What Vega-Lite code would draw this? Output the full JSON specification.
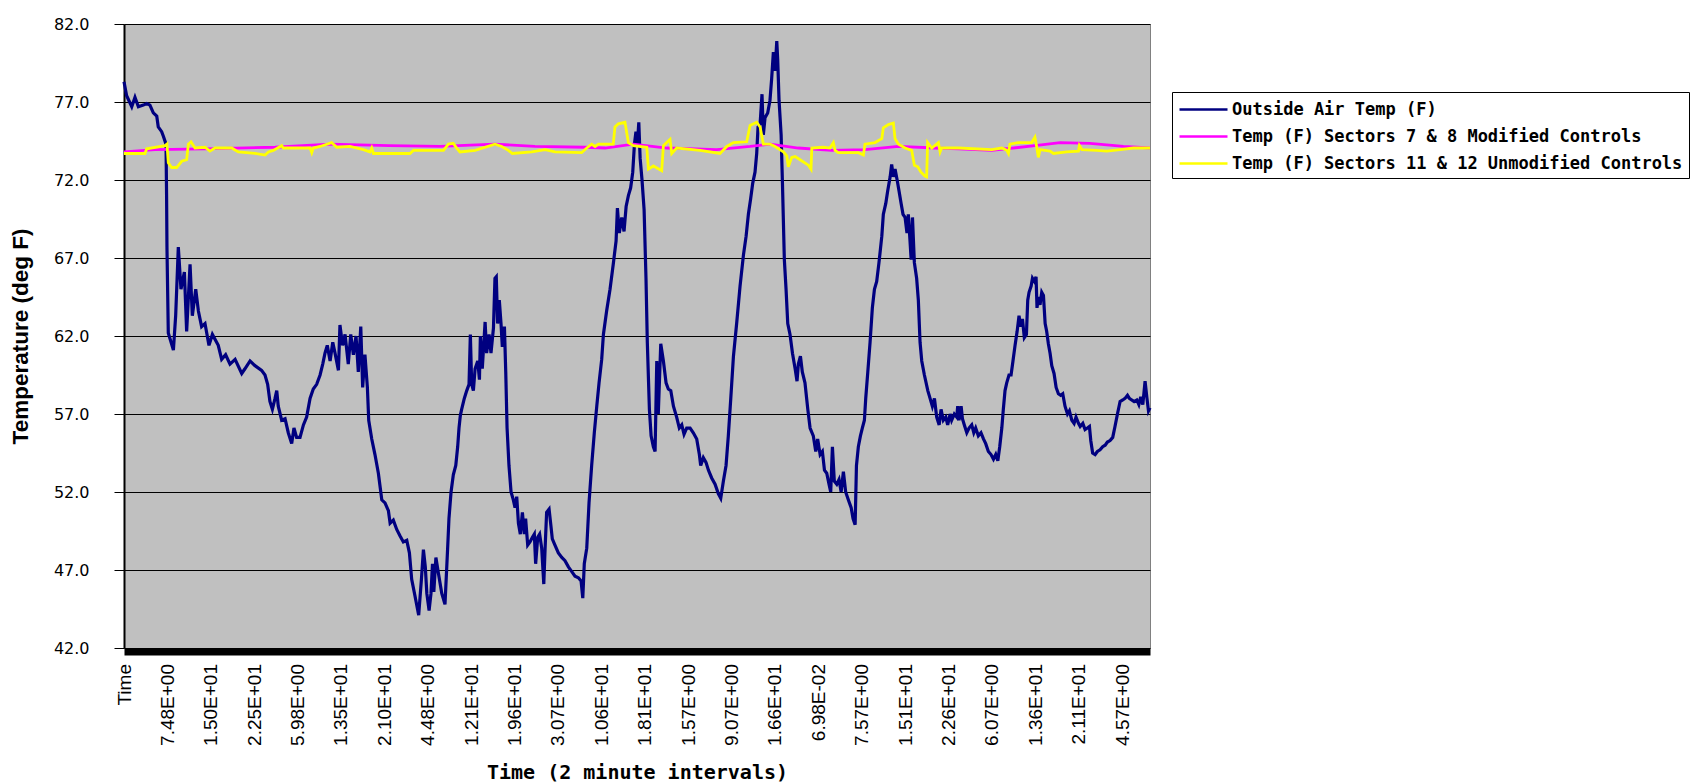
{
  "$schema": "https://vega.github.io/schema/vega-lite/v6.json",
  "width": 1026,
  "height": 624,
  "autosize": {"type": "none"},
  "padding": {"left": 124, "top": 24, "right": 555, "bottom": 135},
  "background": "white",
  "config": {"view": {"fill": "#C0C0C0", "stroke": "#808080", "strokeWidth": 1}},
  "datasets": {
    "outside": [
      {"x":0,"t":78.3},{"x":14,"t":77.4},{"x":41,"t":76.7},{"x":58,"t":77.3},{"x":76,"t":76.7},{"x":102,"t":76.8},{"x":120,"t":76.9},{"x":137,"t":76.8},{"x":155,"t":76.3},{"x":173,"t":76.1},{"x":181,"t":75.4},{"x":199,"t":75.1},{"x":208,"t":74.8},{"x":222,"t":74.3},{"x":225,"t":71.0},{"x":227,"t":67.7},{"x":234,"t":62.2},{"x":261,"t":61.1},{"x":273,"t":63.3},{"x":287,"t":67.7},{"x":301,"t":65.0},{"x":319,"t":66.1},{"x":331,"t":62.3},{"x":349,"t":66.6},{"x":361,"t":63.3},{"x":379,"t":65.0},{"x":393,"t":63.6},{"x":410,"t":62.6},{"x":428,"t":62.8},{"x":449,"t":61.4},{"x":467,"t":62.1},{"x":498,"t":61.4},{"x":516,"t":60.5},{"x":537,"t":60.8},{"x":560,"t":60.2},{"x":587,"t":60.5},{"x":622,"t":59.6},{"x":639,"t":59.9},{"x":666,"t":60.4},{"x":692,"t":60.1},{"x":727,"t":59.8},{"x":745,"t":59.5},{"x":759,"t":58.9},{"x":771,"t":57.8},{"x":784,"t":57.3},{"x":798,"t":58.0},{"x":807,"t":58.5},{"x":815,"t":57.5},{"x":833,"t":56.6},{"x":851,"t":56.7},{"x":868,"t":55.8},{"x":886,"t":55.1},{"x":898,"t":56.1},{"x":912,"t":55.5},{"x":930,"t":55.5},{"x":948,"t":56.3},{"x":965,"t":56.8},{"x":983,"t":58.0},{"x":1000,"t":58.6},{"x":1018,"t":58.9},{"x":1036,"t":59.5},{"x":1050,"t":60.2},{"x":1062,"t":60.9},{"x":1074,"t":61.4},{"x":1089,"t":60.4},{"x":1103,"t":61.6},{"x":1115,"t":60.9},{"x":1133,"t":59.8},{"x":1141,"t":62.7},{"x":1155,"t":61.4},{"x":1168,"t":62.1},{"x":1185,"t":60.2},{"x":1198,"t":62.1},{"x":1212,"t":60.8},{"x":1226,"t":62.0},{"x":1238,"t":59.7},{"x":1251,"t":62.6},{"x":1261,"t":58.7},{"x":1273,"t":60.8},{"x":1286,"t":58.7},{"x":1293,"t":56.6},{"x":1309,"t":55.4},{"x":1326,"t":54.4},{"x":1344,"t":53.2},{"x":1362,"t":51.5},{"x":1379,"t":51.3},{"x":1397,"t":50.8},{"x":1406,"t":50.0},{"x":1423,"t":50.2},{"x":1441,"t":49.6},{"x":1458,"t":49.2},{"x":1476,"t":48.8},{"x":1494,"t":48.9},{"x":1508,"t":48.1},{"x":1520,"t":46.4},{"x":1538,"t":45.3},{"x":1557,"t":44.1},{"x":1572,"t":46.5},{"x":1582,"t":48.3},{"x":1592,"t":47.2},{"x":1600,"t":45.5},{"x":1612,"t":44.4},{"x":1622,"t":45.5},{"x":1630,"t":47.4},{"x":1637,"t":45.6},{"x":1648,"t":47.8},{"x":1661,"t":46.8},{"x":1679,"t":45.5},{"x":1696,"t":44.8},{"x":1710,"t":48.4},{"x":1717,"t":50.3},{"x":1728,"t":52.0},{"x":1740,"t":53.1},{"x":1753,"t":53.7},{"x":1763,"t":54.9},{"x":1770,"t":56.1},{"x":1777,"t":56.9},{"x":1784,"t":57.3},{"x":1798,"t":58.0},{"x":1811,"t":58.5},{"x":1823,"t":58.9},{"x":1830,"t":62.1},{"x":1837,"t":58.9},{"x":1846,"t":58.5},{"x":1855,"t":59.9},{"x":1869,"t":60.4},{"x":1878,"t":59.2},{"x":1883,"t":62.0},{"x":1893,"t":59.9},{"x":1908,"t":62.9},{"x":1916,"t":60.9},{"x":1929,"t":62.1},{"x":1939,"t":60.9},{"x":1952,"t":62.5},{"x":1960,"t":65.7},{"x":1967,"t":65.8},{"x":1974,"t":62.8},{"x":1983,"t":64.3},{"x":1992,"t":62.8},{"x":1999,"t":61.3},{"x":2010,"t":62.6},{"x":2017,"t":59.7},{"x":2024,"t":56.1},{"x":2034,"t":53.7},{"x":2045,"t":52.0},{"x":2057,"t":51.5},{"x":2066,"t":51.0},{"x":2075,"t":51.7},{"x":2084,"t":50.0},{"x":2094,"t":49.3},{"x":2105,"t":50.7},{"x":2115,"t":49.3},{"x":2122,"t":50.3},{"x":2133,"t":48.6},{"x":2145,"t":48.8},{"x":2158,"t":49.1},{"x":2168,"t":49.3},{"x":2175,"t":47.4},{"x":2186,"t":49.1},{"x":2196,"t":49.3},{"x":2207,"t":48.4},{"x":2218,"t":46.1},{"x":2225,"t":48.4},{"x":2233,"t":50.7},{"x":2246,"t":50.9},{"x":2256,"t":49.8},{"x":2263,"t":49.0},{"x":2277,"t":48.6},{"x":2295,"t":48.1},{"x":2313,"t":47.8},{"x":2330,"t":47.6},{"x":2348,"t":47.2},{"x":2366,"t":46.9},{"x":2383,"t":46.6},{"x":2401,"t":46.5},{"x":2415,"t":46.3},{"x":2424,"t":45.2},{"x":2432,"t":47.4},{"x":2445,"t":48.4},{"x":2457,"t":51.3},{"x":2471,"t":53.7},{"x":2485,"t":55.8},{"x":2498,"t":57.5},{"x":2510,"t":59.0},{"x":2524,"t":60.5},{"x":2533,"t":62.1},{"x":2550,"t":63.6},{"x":2568,"t":65.0},{"x":2586,"t":66.7},{"x":2600,"t":68.1},{"x":2607,"t":70.2},{"x":2617,"t":68.6},{"x":2630,"t":69.6},{"x":2642,"t":68.7},{"x":2653,"t":70.3},{"x":2665,"t":71.0},{"x":2677,"t":71.5},{"x":2688,"t":72.5},{"x":2697,"t":74.3},{"x":2705,"t":75.1},{"x":2712,"t":74.2},{"x":2720,"t":75.7},{"x":2727,"t":73.4},{"x":2737,"t":72.0},{"x":2748,"t":70.1},{"x":2758,"t":65.7},{"x":2765,"t":61.6},{"x":2776,"t":57.3},{"x":2785,"t":55.6},{"x":2797,"t":54.9},{"x":2806,"t":54.6},{"x":2815,"t":60.4},{"x":2823,"t":57.0},{"x":2836,"t":61.5},{"x":2850,"t":60.4},{"x":2864,"t":59.0},{"x":2876,"t":58.6},{"x":2889,"t":58.5},{"x":2903,"t":57.5},{"x":2920,"t":56.8},{"x":2934,"t":56.1},{"x":2947,"t":56.3},{"x":2959,"t":55.7},{"x":2973,"t":56.1},{"x":2991,"t":56.1},{"x":3008,"t":55.8},{"x":3026,"t":55.4},{"x":3040,"t":54.4},{"x":3047,"t":53.7},{"x":3061,"t":54.2},{"x":3075,"t":53.9},{"x":3088,"t":53.4},{"x":3105,"t":52.9},{"x":3123,"t":52.5},{"x":3140,"t":51.9},{"x":3153,"t":51.6},{"x":3167,"t":52.7},{"x":3181,"t":53.7},{"x":3193,"t":55.6},{"x":3206,"t":58.0},{"x":3220,"t":60.7},{"x":3237,"t":62.8},{"x":3255,"t":65.2},{"x":3273,"t":67.2},{"x":3287,"t":68.4},{"x":3299,"t":69.8},{"x":3311,"t":70.8},{"x":3322,"t":71.8},{"x":3334,"t":72.5},{"x":3343,"t":73.7},{"x":3350,"t":75.4},{"x":3361,"t":75.6},{"x":3371,"t":77.5},{"x":3378,"t":74.9},{"x":3387,"t":76.0},{"x":3401,"t":76.3},{"x":3413,"t":77.1},{"x":3422,"t":78.5},{"x":3431,"t":80.2},{"x":3440,"t":79.0},{"x":3449,"t":80.9},{"x":3454,"t":79.7},{"x":3461,"t":77.1},{"x":3472,"t":74.9},{"x":3479,"t":71.8},{"x":3489,"t":66.9},{"x":3498,"t":65.0},{"x":3507,"t":62.8},{"x":3519,"t":62.1},{"x":3532,"t":60.9},{"x":3546,"t":59.9},{"x":3556,"t":59.1},{"x":3563,"t":60.2},{"x":3574,"t":60.7},{"x":3584,"t":59.7},{"x":3598,"t":59.0},{"x":3613,"t":57.3},{"x":3625,"t":56.1},{"x":3642,"t":55.6},{"x":3655,"t":54.6},{"x":3665,"t":55.4},{"x":3678,"t":54.4},{"x":3690,"t":54.6},{"x":3701,"t":53.4},{"x":3713,"t":53.2},{"x":3725,"t":52.5},{"x":3734,"t":52.0},{"x":3743,"t":54.9},{"x":3753,"t":52.7},{"x":3766,"t":52.5},{"x":3778,"t":52.8},{"x":3789,"t":52.0},{"x":3801,"t":53.3},{"x":3813,"t":52.0},{"x":3827,"t":51.5},{"x":3842,"t":51.0},{"x":3852,"t":50.3},{"x":3863,"t":49.9},{"x":3870,"t":53.7},{"x":3880,"t":54.9},{"x":3891,"t":55.6},{"x":3901,"t":56.1},{"x":3912,"t":56.6},{"x":3919,"t":58.0},{"x":3930,"t":59.7},{"x":3942,"t":61.6},{"x":3954,"t":63.8},{"x":3965,"t":65.0},{"x":3977,"t":65.5},{"x":3989,"t":66.7},{"x":4004,"t":68.4},{"x":4012,"t":69.8},{"x":4025,"t":70.5},{"x":4035,"t":71.3},{"x":4048,"t":72.2},{"x":4056,"t":73.0},{"x":4065,"t":72.2},{"x":4074,"t":72.7},{"x":4085,"t":72.0},{"x":4095,"t":71.3},{"x":4106,"t":70.5},{"x":4116,"t":69.8},{"x":4127,"t":69.6},{"x":4137,"t":68.6},{"x":4144,"t":69.8},{"x":4153,"t":68.1},{"x":4159,"t":66.9},{"x":4166,"t":69.6},{"x":4176,"t":66.7},{"x":4188,"t":65.7},{"x":4197,"t":64.3},{"x":4206,"t":61.6},{"x":4215,"t":60.4},{"x":4229,"t":59.5},{"x":4247,"t":58.5},{"x":4259,"t":58.0},{"x":4271,"t":57.5},{"x":4282,"t":58.0},{"x":4294,"t":56.8},{"x":4307,"t":56.3},{"x":4317,"t":57.3},{"x":4329,"t":56.6},{"x":4342,"t":56.8},{"x":4352,"t":56.3},{"x":4365,"t":57.0},{"x":4373,"t":56.6},{"x":4387,"t":57.0},{"x":4400,"t":56.8},{"x":4405,"t":57.5},{"x":4412,"t":56.6},{"x":4423,"t":57.5},{"x":4430,"t":56.7},{"x":4440,"t":56.3},{"x":4453,"t":55.8},{"x":4465,"t":56.1},{"x":4479,"t":56.3},{"x":4490,"t":55.8},{"x":4500,"t":56.1},{"x":4514,"t":55.6},{"x":4528,"t":55.8},{"x":4541,"t":55.4},{"x":4553,"t":55.1},{"x":4567,"t":54.6},{"x":4581,"t":54.4},{"x":4594,"t":54.1},{"x":4606,"t":54.4},{"x":4617,"t":54.0},{"x":4627,"t":54.9},{"x":4638,"t":56.1},{"x":4646,"t":57.3},{"x":4655,"t":58.5},{"x":4664,"t":59.0},{"x":4676,"t":59.5},{"x":4687,"t":59.5},{"x":4697,"t":60.4},{"x":4708,"t":61.4},{"x":4719,"t":62.3},{"x":4729,"t":63.3},{"x":4738,"t":62.6},{"x":4747,"t":63.1},{"x":4757,"t":61.9},{"x":4768,"t":62.1},{"x":4775,"t":64.3},{"x":4782,"t":64.8},{"x":4793,"t":65.2},{"x":4800,"t":65.7},{"x":4810,"t":65.5},{"x":4819,"t":65.8},{"x":4824,"t":63.8},{"x":4831,"t":64.5},{"x":4840,"t":64.0},{"x":4849,"t":64.8},{"x":4858,"t":64.6},{"x":4867,"t":62.8},{"x":4875,"t":62.3},{"x":4884,"t":61.5},{"x":4893,"t":60.9},{"x":4902,"t":60.1},{"x":4914,"t":59.6},{"x":4925,"t":58.7},{"x":4937,"t":58.3},{"x":4949,"t":58.2},{"x":4960,"t":58.3},{"x":4972,"t":57.5},{"x":4985,"t":57.0},{"x":4995,"t":57.2},{"x":5008,"t":56.6},{"x":5020,"t":56.4},{"x":5030,"t":56.8},{"x":5043,"t":56.4},{"x":5052,"t":56.2},{"x":5066,"t":56.4},{"x":5078,"t":56.0},{"x":5090,"t":56.1},{"x":5101,"t":56.2},{"x":5108,"t":55.3},{"x":5118,"t":54.5},{"x":5131,"t":54.4},{"x":5143,"t":54.6},{"x":5157,"t":54.7},{"x":5171,"t":54.9},{"x":5184,"t":55.0},{"x":5196,"t":55.2},{"x":5210,"t":55.3},{"x":5224,"t":55.5},{"x":5236,"t":56.2},{"x":5249,"t":57.0},{"x":5263,"t":57.8},{"x":5277,"t":57.9},{"x":5289,"t":58.0},{"x":5302,"t":58.2},{"x":5312,"t":58.0},{"x":5324,"t":57.9},{"x":5337,"t":57.8},{"x":5351,"t":57.9},{"x":5362,"t":57.6},{"x":5372,"t":58.1},{"x":5383,"t":57.6},{"x":5395,"t":59.1},{"x":5404,"t":58.1},{"x":5413,"t":57.2},{"x":5421,"t":57.4}
    ],
    "modified": [
      {"x":0,"t":73.8},{"x":164,"t":73.95},{"x":428,"t":74.0},{"x":798,"t":74.1},{"x":1088,"t":74.3},{"x":1400,"t":74.2},{"x":1670,"t":74.15},{"x":1960,"t":74.3},{"x":2171,"t":74.15},{"x":2436,"t":74.1},{"x":2542,"t":74.05},{"x":2691,"t":74.3},{"x":2868,"t":74.05},{"x":3132,"t":73.95},{"x":3308,"t":74.15},{"x":3414,"t":74.3},{"x":3563,"t":74.05},{"x":3739,"t":73.9},{"x":3915,"t":73.95},{"x":4092,"t":74.15},{"x":4285,"t":74.05},{"x":4409,"t":74.0},{"x":4585,"t":73.9},{"x":4813,"t":74.2},{"x":4946,"t":74.4},{"x":5104,"t":74.35},{"x":5280,"t":74.15},{"x":5421,"t":74.05}
    ],
    "unmodified": [
      {"x":0,"t":73.7},{"x":111,"t":73.7},{"x":120,"t":74.0},{"x":217,"t":74.2},{"x":227,"t":74.3},{"x":234,"t":73.1},{"x":252,"t":72.8},{"x":278,"t":72.8},{"x":305,"t":73.2},{"x":331,"t":73.3},{"x":340,"t":74.3},{"x":354,"t":74.45},{"x":375,"t":74.05},{"x":428,"t":74.1},{"x":454,"t":73.85},{"x":481,"t":74.05},{"x":569,"t":74.05},{"x":604,"t":73.8},{"x":692,"t":73.7},{"x":745,"t":73.6},{"x":763,"t":73.8},{"x":789,"t":73.9},{"x":833,"t":74.2},{"x":842,"t":74.05},{"x":983,"t":74.05},{"x":992,"t":73.75},{"x":1000,"t":74.05},{"x":1036,"t":74.15},{"x":1097,"t":74.4},{"x":1124,"t":74.1},{"x":1194,"t":74.15},{"x":1265,"t":73.95},{"x":1300,"t":73.8},{"x":1309,"t":74.05},{"x":1318,"t":73.7},{"x":1388,"t":73.7},{"x":1511,"t":73.7},{"x":1529,"t":73.9},{"x":1688,"t":73.9},{"x":1714,"t":74.3},{"x":1740,"t":74.35},{"x":1758,"t":74.05},{"x":1775,"t":73.8},{"x":1855,"t":73.9},{"x":1960,"t":74.3},{"x":1996,"t":74.15},{"x":2031,"t":73.9},{"x":2052,"t":73.7},{"x":2154,"t":73.8},{"x":2225,"t":73.95},{"x":2277,"t":73.8},{"x":2418,"t":73.75},{"x":2445,"t":74.05},{"x":2471,"t":74.3},{"x":2489,"t":74.15},{"x":2507,"t":74.3},{"x":2585,"t":74.3},{"x":2594,"t":75.4},{"x":2612,"t":75.6},{"x":2647,"t":75.7},{"x":2665,"t":74.4},{"x":2691,"t":74.2},{"x":2762,"t":74.1},{"x":2771,"t":72.7},{"x":2797,"t":72.9},{"x":2841,"t":72.6},{"x":2850,"t":74.2},{"x":2885,"t":74.6},{"x":2894,"t":73.7},{"x":2920,"t":74.05},{"x":3044,"t":73.9},{"x":3149,"t":73.7},{"x":3185,"t":74.15},{"x":3220,"t":74.4},{"x":3290,"t":74.45},{"x":3308,"t":75.5},{"x":3343,"t":75.7},{"x":3361,"t":75.4},{"x":3378,"t":74.3},{"x":3414,"t":74.3},{"x":3440,"t":74.15},{"x":3484,"t":73.8},{"x":3502,"t":73.55},{"x":3510,"t":72.85},{"x":3528,"t":73.45},{"x":3546,"t":73.5},{"x":3572,"t":73.3},{"x":3616,"t":72.95},{"x":3630,"t":72.7},{"x":3634,"t":74.05},{"x":3695,"t":74.1},{"x":3730,"t":74.05},{"x":3748,"t":74.4},{"x":3757,"t":73.9},{"x":3774,"t":73.75},{"x":3880,"t":73.75},{"x":3907,"t":73.6},{"x":3915,"t":74.3},{"x":3968,"t":74.4},{"x":4004,"t":74.65},{"x":4012,"t":75.35},{"x":4039,"t":75.55},{"x":4065,"t":75.65},{"x":4074,"t":74.65},{"x":4092,"t":74.3},{"x":4127,"t":74.05},{"x":4162,"t":73.9},{"x":4176,"t":72.95},{"x":4194,"t":72.85},{"x":4211,"t":72.5},{"x":4232,"t":72.25},{"x":4241,"t":72.2},{"x":4246,"t":74.4},{"x":4268,"t":74.05},{"x":4303,"t":74.4},{"x":4312,"t":73.8},{"x":4320,"t":74.05},{"x":4409,"t":74.05},{"x":4585,"t":73.95},{"x":4638,"t":74.05},{"x":4664,"t":73.9},{"x":4673,"t":73.7},{"x":4681,"t":74.3},{"x":4726,"t":74.4},{"x":4796,"t":74.4},{"x":4813,"t":74.75},{"x":4822,"t":74.15},{"x":4831,"t":73.45},{"x":4840,"t":73.95},{"x":4867,"t":73.9},{"x":4893,"t":73.85},{"x":4911,"t":73.7},{"x":4981,"t":73.8},{"x":5043,"t":73.85},{"x":5048,"t":74.2},{"x":5061,"t":73.95},{"x":5140,"t":73.9},{"x":5193,"t":73.85},{"x":5263,"t":73.95},{"x":5333,"t":74.05},{"x":5421,"t":74.05}
    ]
  },
  "layer": [
    {
      "data": {"name": "outside"},
      "mark": {"type": "line", "strokeWidth": 3.2},
      "encoding": {
        "x": {
          "field": "x", "type": "quantitative",
          "scale": {"domain": [0, 5421], "nice": false, "zero": false},
          "axis": {
            "title": "Time (2 minute intervals)",
            "values": [0, 229.3, 458.6, 687.9, 917.2, 1146.5, 1375.8, 1605.1, 1834.4, 2063.7, 2293, 2522.3, 2751.6, 2980.9, 3210.2, 3439.5, 3668.8, 3898.1, 4127.4, 4356.7, 4586, 4815.3, 5044.6, 5273.9],
            "labelExpr": "['Time','7.48E+00','1.50E+01','2.25E+01','5.98E+00','1.35E+01','2.10E+01','4.48E+00','1.21E+01','1.96E+01','3.07E+00','1.06E+01','1.81E+01','1.57E+00','9.07E+00','1.66E+01','6.98E-02','7.57E+00','1.51E+01','2.26E+01','6.07E+00','1.36E+01','2.11E+01','4.57E+00'][round(datum.value/229.3)]",
            "labelAngle": 270,
            "labelAlign": "right",
            "labelBaseline": "middle",
            "labelFont": "Liberation Sans",
            "labelFontSize": 19,
            "labelColor": "black",
            "labelOverlap": false,
            "labelFlush": false,
            "labelBound": false,
            "ticks": false,
            "labelPadding": 12,
            "domain": true,
            "domainColor": "black",
            "domainWidth": 7,
            "offset": 3.5,
            "grid": false,
            "titleFont": "DejaVu Sans Mono",
            "titleFontSize": 20,
            "titleFontWeight": "bold",
            "titleColor": "black",
            "titlePadding": 17
          }
        },
        "y": {
          "field": "t", "type": "quantitative",
          "scale": {"domain": [42, 82], "nice": false, "zero": false},
          "axis": {
            "title": "Temperature (deg F)",
            "values": [42, 47, 52, 57, 62, 67, 72, 77, 82],
            "format": ".1f",
            "labelFont": "DejaVu Sans",
            "labelFontSize": 16,
            "labelColor": "black",
            "tickColor": "black",
            "tickSize": 10,
            "tickWidth": 1,
            "labelPadding": 25,
            "domainColor": "black",
            "domainWidth": 2,
            "grid": true,
            "gridColor": "black",
            "gridWidth": 1,
            "gridOpacity": 1,
            "titleFont": "Liberation Sans",
            "titleFontSize": 22.5,
            "titleFontWeight": "bold",
            "titleColor": "black",
            "titlePadding": 21
          }
        },
        "color": {
          "datum": "Outside Air Temp (F)",
          "type": "nominal",
          "scale": {
            "domain": ["Outside Air Temp (F)", "Temp (F) Sectors 7 & 8 Modified Controls", "Temp (F) Sectors 11 & 12 Unmodified Controls"],
            "range": ["#000080", "#FF00FF", "#FFFF00"]
          },
          "legend": {
            "title": null,
            "orient": "none",
            "legendX": 1048,
            "legendY": 68,
            "direction": "vertical",
            "symbolType": "M-1,0H3.8",
            "symbolSize": 400,
            "symbolStrokeWidth": 2.5,
            "labelFont": "DejaVu Sans Mono",
            "labelFontSize": 17,
            "labelFontWeight": "bold",
            "labelColor": "black",
            "labelLimit": 800,
            "labelOffset": 31,
            "strokeColor": "black",
            "fillColor": "white",
            "padding": 6,
            "rowPadding": 7,
            "cornerRadius": 0
          }
        }
      }
    },
    {
      "data": {"name": "modified"},
      "mark": {"type": "line", "strokeWidth": 2.8},
      "encoding": {
        "x": {"field": "x", "type": "quantitative"},
        "y": {"field": "t", "type": "quantitative"},
        "color": {"datum": "Temp (F) Sectors 7 & 8 Modified Controls", "type": "nominal"}
      }
    },
    {
      "data": {"name": "unmodified"},
      "mark": {"type": "line", "strokeWidth": 2.8},
      "encoding": {
        "x": {"field": "x", "type": "quantitative"},
        "y": {"field": "t", "type": "quantitative"},
        "color": {"datum": "Temp (F) Sectors 11 & 12 Unmodified Controls", "type": "nominal"}
      }
    }
  ]
}
